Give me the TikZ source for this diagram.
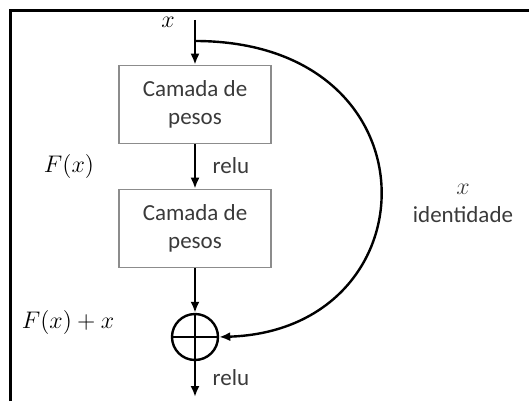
\documentclass[tikz,border=0pt]{standalone}
\usepackage{fontspec}
\setmainfont{Carlito}
\usetikzlibrary{arrows.meta,positioning}
\definecolor{boxgray}{HTML}{8C8C8C}
\definecolor{textgray}{HTML}{3A3A3A}

\begin{document}
\begin{tikzpicture}[x=0.5pt,y=-0.5pt,font=\fontsize{11.5}{14}\selectfont]
  \tikzset{layer/.style={draw=boxgray, line width=0.8pt, align=center, minimum width=76pt, minimum height=39pt, text=textgray}, sumnode/.style={circle, draw, line width=1.2pt, minimum size=23pt, inner sep=0pt, path picture={\draw[line width=0.9pt] (path picture bounding box.north) -- (path picture bounding box.south) (path picture bounding box.west) -- (path picture bounding box.east);}}, flow/.style={-{Latex[length=5.5pt,width=4.5pt]}, line width=1.2pt}}
  \useasboundingbox (0,0) rectangle (529,401);
  \draw[line width=1.5pt] (10,401) -- (10,11) -- (529,11);
  % main path
  \coordinate (in) at (195,20);
  \coordinate (split) at (195,41);
  \node[layer] (w1) at (195,104.5) {Camada de\\pesos};
  \node[layer] (w2) at (195,228.5) {Camada de\\pesos};
  \node[sumnode] (add) at (195,337) {};
  \coordinate (out) at (195,397);
  \draw[flow] (in) -- (w1);
  \draw[flow] (w1) -- (w2);
  \draw[flow] (w2) -- (add);
  \draw[flow] (add) -- (out);
  % shortcut
  \draw[flow] (split) .. controls (441,41) and (435,330) .. (add.east);
  % labels
  \node (xin) at (168,22) {$x$};
  \node (fx) at (69,166) {$F(x)$};
  \node[text=textgray] (relu1) at (231,166) {relu};
  \node (fxx) at (68,322) {$F(x)+x$};
  \node[text=textgray] (relu2) at (231,378) {relu};
  \node[align=center, text=textgray] (ident) at (463,203) {$x$\\identidade};
\end{tikzpicture}
\end{document}
